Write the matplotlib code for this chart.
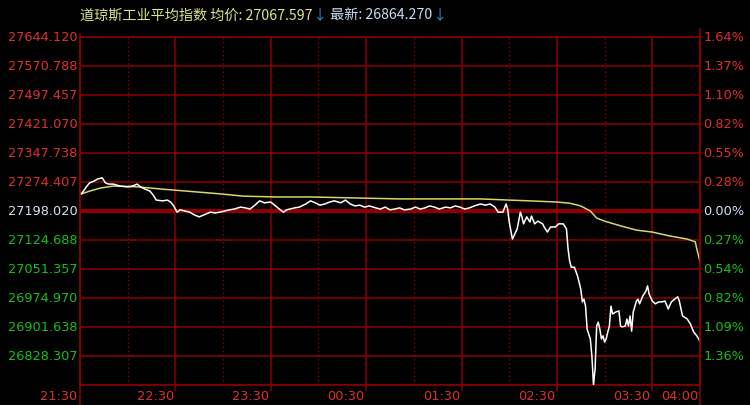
import matplotlib
matplotlib.use('Agg')
import matplotlib.pyplot as plt
from matplotlib.lines import Line2D

# 分钟数 (从 21:30 开始) 和 价格
t_price = [0, 1, 4, 6, 9, 11, 14, 16, 18, 21, 25, 30, 33, 36, 38, 41, 44, 46, 48, 52,
           55, 57, 59, 61, 63, 66, 69, 72, 75, 79, 82, 85, 88, 91, 94, 97, 101, 104, 107, 110,
           113, 116, 120, 123, 126, 128, 130, 132, 135, 138, 142, 145, 148, 151, 154, 157, 160, 164, 167, 170,
           173, 176, 179, 182, 186, 189, 192, 195, 198, 201, 204, 208, 211, 214, 217, 220, 223, 226, 230, 233,
           236, 239, 242, 245, 248, 252, 255, 258, 261, 263, 266, 268, 269, 270, 272, 275, 277, 278, 279, 281,
           283, 284, 286, 288, 291, 292, 294, 296, 299, 301, 304, 306, 307, 308, 309, 311, 313, 315, 316, 317,
           318, 319, 321, 322, 323, 324, 325, 326, 327, 328, 329, 330, 331, 332, 333, 334, 335, 337, 339, 340,
           341, 343, 344, 345, 346, 347, 348, 350, 351, 352, 354, 356, 357, 358, 360, 362, 364, 366, 368, 370,
           372, 374, 376, 377, 379, 382, 384, 386, 388, 390]
price = [27244, 27242, 27260, 27270, 27275, 27280, 27283, 27270, 27267, 27267, 27262, 27260, 27262, 27267, 27260, 27254, 27249, 27239, 27226, 27224,
         27226, 27221, 27211, 27195, 27201, 27198, 27195, 27188, 27183, 27190, 27195, 27193, 27195, 27198, 27201, 27203, 27208, 27206, 27203, 27213,
         27224, 27219, 27221, 27211, 27201, 27195, 27201, 27203, 27206, 27208, 27216, 27224, 27219, 27213, 27216, 27221, 27224, 27219, 27226, 27216,
         27211, 27213, 27208, 27211, 27206, 27203, 27208, 27201, 27203, 27206, 27201, 27203, 27208, 27203, 27206, 27211, 27208, 27203, 27208, 27206,
         27211, 27208, 27203, 27206, 27211, 27216, 27213, 27216, 27208, 27195, 27195, 27216, 27203, 27170, 27126, 27152, 27195, 27183, 27165, 27183,
         27170, 27185, 27165, 27172, 27165, 27157, 27144, 27157, 27157, 27165, 27165, 27152, 27101, 27070, 27054, 27054, 27031, 26998, 26965, 26972,
         26954, 26895, 26870, 26826, 26752, 26793, 26903, 26913, 26895, 26870, 26878, 26862, 26870, 26888, 26903, 26954, 26934, 26939, 26942, 26903,
         26901, 26903, 26921, 26903, 26929, 26890, 26939, 26967, 26972, 26960, 26980, 26993, 27006, 26985, 26967, 26960, 26965, 26965, 26967, 26947,
         26965, 26972, 26978, 26967, 26929, 26921, 26908, 26888, 26878, 26864]

# 均价线
t_avg = [0, 1, 6, 13, 21, 36, 52, 67, 88, 103, 124, 145, 201, 252, 270, 283, 300, 308, 315, 321,
         325, 330, 340, 350, 360, 371, 382, 387, 388, 390]
avg = [27244, 27242, 27249, 27257, 27262, 27260, 27254, 27249, 27242, 27236, 27234, 27234, 27229, 27229, 27226, 27224, 27221, 27218, 27211, 27198,
       27180, 27172, 27160, 27149, 27144, 27134, 27126, 27119, 27101, 27068]

base = 27198.020
top = 27644.120
left_labels = ['27644.120', '27570.788', '27497.457', '27421.070', '27347.738', '27274.407',
               '27198.020', '27124.688', '27051.357', '26974.970', '26901.638', '26828.307']
right_labels = ['1.64%', '1.37%', '1.10%', '0.82%', '0.55%', '0.28%',
                '0.00%', '0.27%', '0.54%', '0.82%', '1.09%', '1.36%']
time_ticks = [0, 60, 120, 180, 240, 300, 360, 390]
time_labels = ['21:30', '22:30', '23:30', '00:30', '01:30', '02:30', '03:30', '04:00']

W, H = 750, 406
grid_c = '#8c0000'
red = '#e03030'
green = '#18c018'
basec = '#cfe2f7'

fig = plt.figure(figsize=(W / 100, H / 100), dpi=100, facecolor='black')
ax = fig.add_axes([80 / W, (H - 386) / H, 620 / W, 348 / H], facecolor='black')

step = (top - base) / 6
levels = [base + (6 - i) * step for i in range(13)]
ax.set_xlim(0, 390)
ax.set_ylim(levels[-1], levels[0])

# 网格
for i, lv in enumerate(levels):
    if i == 6:
        ax.axhline(lv, color=grid_c, lw=3.0, zorder=1)
    else:
        ax.axhline(lv, color=grid_c, lw=1.1, zorder=1)
for m in range(30, 390, 60):
    ax.axvline(m, color=grid_c, lw=1.0, ls=(0, (1, 2)), zorder=1)
for m in range(60, 390, 60):
    ax.axvline(m, color=grid_c, lw=1.1, zorder=1)

for s in ax.spines.values():
    s.set_color(grid_c)
    s.set_linewidth(1.1)

ax.set_yticks([])
ax.set_xticks(time_ticks[1:-1])
ax.set_xticklabels([])
ax.tick_params(axis='x', length=4, width=1.1, color=grid_c, direction='out')

# 延伸的边框线
fig.add_artist(Line2D([80 / W, 80 / W], [0, (H - 35) / H], color=grid_c, lw=1.1))
fig.add_artist(Line2D([700 / W, 700 / W], [0, (H - 30) / H], color=grid_c, lw=1.1))

# 价格线
ax.plot(t_avg, avg, color='#d6d66c', lw=1.1, zorder=3)
ax.plot(t_price, price, color='white', lw=1.1, zorder=4)

# 左右刻度标签
for i, lab in enumerate(left_labels):
    c = red if i < 6 else (basec if i == 6 else green)
    y = levels[i]
    ax.text(-0.004, y, lab, transform=ax.get_yaxis_transform(), ha='right', va='center',
            color=c, fontsize=9.3, family='DejaVu Sans', clip_on=False)
    ax.text(1.005, y, right_labels[i], transform=ax.get_yaxis_transform(), ha='left', va='center',
            color=c, fontsize=9.3, family='DejaVu Sans', clip_on=False)

for m, lab in zip(time_ticks, time_labels):
    xo = -1.5 if m == 0 else -1
    ax.text(m + xo, -0.031, lab, transform=ax.get_xaxis_transform(), ha='right', va='center',
            color=red, fontsize=9.3, family='DejaVu Sans', clip_on=False)

# 标题
fam = ['Noto Sans CJK SC', 'DejaVu Sans']
pieces = [('道琼斯工业平均指数 均价: 27067.597', '#dde38a'),
          ('↓', '#2a95c8'),
          (' 最新: 26864.270', '#c8dcf2'),
          ('↓', '#2a95c8')]
r = fig.canvas.get_renderer()
x = 80 / W
for s, c in pieces:
    t = fig.text(x, 1 - 15.5 / H, s, color=c, fontsize=10.2, family=fam, va='center', ha='left')
    bb = t.get_window_extent(renderer=r)
    x = bb.x1 / W

fig.savefig('out.png', dpi=100, facecolor='black')
